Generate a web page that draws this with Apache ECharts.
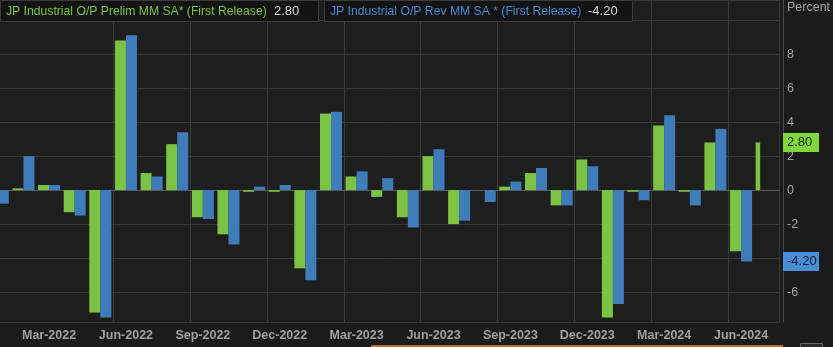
<!DOCTYPE html>
<html><head><meta charset="utf-8">
<script src="https://cdn.jsdelivr.net/npm/echarts@6/dist/echarts.min.js"></script>
<style>html,body{margin:0;padding:0;background:#1b1b1b;}#c{width:833px;height:347px;}</style>
</head><body><div id="c"></div>
<script>
const months = ['Jan-2022','Feb-2022','Mar-2022','Apr-2022','May-2022','Jun-2022','Jul-2022','Aug-2022','Sep-2022','Oct-2022','Nov-2022','Dec-2022',
  'Jan-2023','Feb-2023','Mar-2023','Apr-2023','May-2023','Jun-2023','Jul-2023','Aug-2023','Sep-2023','Oct-2023','Nov-2023','Dec-2023',
  'Jan-2024','Feb-2024','Mar-2024','Apr-2024','May-2024','Jun-2024','Jul-2024'];
const prelimName = 'JP Industrial O/P Prelim MM SA* (First Release)';
const revName = 'JP Industrial O/P Rev MM SA * (First Release)';
const prelim = [-1.3, 0.1, 0.3, -1.3, -7.2, 8.8, 1.0, 2.7, -1.6, -2.6, -0.1, -0.1,
  -4.6, 4.5, 0.8, -0.4, -1.6, 2.0, -2.0, 0.0, 0.2, 1.0, -0.9, 1.8,
  -7.5, -0.1, 3.8, -0.1, 2.8, -3.6, 2.8];
const revised = [-0.8, 2.0, 0.3, -1.5, -7.5, 9.1, 0.8, 3.4, -1.7, -3.2, 0.2, 0.3,
  -5.3, 4.6, 1.1, 0.7, -2.2, 2.4, -1.8, -0.7, 0.5, 1.3, -0.9, 1.4,
  -6.7, -0.6, 4.4, -0.9, 3.6, -4.2, null];
const axisUnit = 'Percent';

const lastOf = a => { for (let i = a.length - 1; i >= 0; i--) if (a[i] != null) return [i, a[i]]; return [0, 0]; };
const [lpIdx, lpVal] = lastOf(prelim);
const [lrIdx, lrVal] = lastOf(revised);

const GREEN = '#7bc443', BLUE = '#3f7cba';
const fnLabel = i => i % 3 === 2;
const fnSplit = i => i % 3 === 2 && i > 2;

const chart = echarts.init(document.getElementById('c'), null, {renderer: 'canvas'});
const mainGreen = prelim.map((v, i) => i === lpIdx ? null : v);
const latestGreen = prelim.map((v, i) => i === lpIdx ? v : null);

function tag(val, bg, fg) {
  return {
    silent: true, symbol: 'none', animation: false,
    lineStyle: {color: 'rgba(0,0,0,0)', width: 0, type: 'solid'},
    label: {show: true, position: 'end', distance: 3.5, formatter: val.toFixed(2),
      backgroundColor: bg, color: fg, fontSize: 13, fontFamily: 'Liberation Sans',
      width: 28, lineHeight: 14, padding: [3, 4, 2, 4], opacity: 1},
    emphasis: {disabled: true},
    data: [{yAxis: val}]
  };
}

chart.setOption({
  backgroundColor: '#1b1b1b',
  animation: false,
  grid: {left: -15, right: 53.5, top: 0, bottom: 25, outerBoundsMode: 'none', containLabel: false,
    show: true, backgroundColor: '#1e1e1f', borderWidth: 0},
  xAxis: [{
    type: 'category', data: months, boundaryGap: true,
    axisLine: {lineStyle: {color: '#5a5a5a'}},
    axisTick: {alignWithLabel: true, interval: fnLabel, length: 4, lineStyle: {color: '#707070'}},
    axisLabel: {interval: fnLabel, color: '#a0a0a0', fontSize: 12.5, fontWeight: 'bold', fontFamily: 'Liberation Sans', margin: 7},
    splitLine: {show: true, interval: fnSplit, lineStyle: {color: '#3a3a3a'}}
  }, {
    type: 'category', data: months, show: false, boundaryGap: true
  }],
  yAxis: {
    type: 'value', position: 'right', offset: 3.5,
    min: -7.76, max: 11.18, minInterval: 2, maxInterval: 2, splitNumber: 9,
    axisLine: {show: true, lineStyle: {color: '#4a4a4a'}},
    axisTick: {show: false},
    axisLabel: {color: '#a2a2a2', fontSize: 12.5, fontFamily: 'Liberation Sans', margin: 4, padding: [4, 0, 0, 0],
      showMinLabel: false, showMaxLabel: false, formatter: v => v === 10 ? '' : String(v)},
    splitLine: {lineStyle: {color: '#383838'}}
  },
  series: [
    {name: prelimName, type: 'bar', xAxisIndex: 0, data: mainGreen, barWidth: 11, barGap: '0%', clip: false,
      itemStyle: {color: GREEN}, markLine: tag(lpVal, '#80d63c', '#16260a')},
    {name: revName, type: 'bar', xAxisIndex: 0, data: revised, barWidth: 11, barGap: '0%', clip: false,
      itemStyle: {color: BLUE}, markLine: tag(lrVal, '#4a8dd4', '#0b1c3d')},
    {name: prelimName + ' latest', type: 'bar', xAxisIndex: 1, data: latestGreen, barWidth: 4.5, barGap: '0%',
      itemStyle: {color: GREEN}},
    {name: 'spacer', type: 'bar', xAxisIndex: 1, data: months.map(() => null), barWidth: 17.5, barGap: '0%',
      itemStyle: {color: 'rgba(0,0,0,0)'}}
  ],
  graphic: [
    {type: 'rect', shape: {x: 0.5, y: 0.5, width: 318, height: 21}, style: {fill: '#131313', stroke: '#3a3a3a', lineWidth: 1}, z: 10},
    {type: 'text', x: 6, y: 11.5, z: 11, style: {text: prelimName, fill: GREEN, fontSize: 12.2, fontFamily: 'Liberation Sans', verticalAlign: 'middle'}},
    {type: 'text', x: 274, y: 11.5, z: 11, style: {text: lpVal.toFixed(2), fill: '#d6d6d6', fontSize: 13, fontFamily: 'Liberation Sans', verticalAlign: 'middle'}},
    {type: 'rect', shape: {x: 324.5, y: 0.5, width: 308, height: 21}, style: {fill: '#131313', stroke: '#3a3a3a', lineWidth: 1}, z: 10},
    {type: 'text', x: 330, y: 11.5, z: 11, style: {text: revName, fill: '#4a88cc', fontSize: 12.2, fontFamily: 'Liberation Sans', verticalAlign: 'middle'}},
    {type: 'text', x: 588, y: 11.5, z: 11, style: {text: lrVal.toFixed(2), fill: '#d6d6d6', fontSize: 13, fontFamily: 'Liberation Sans', verticalAlign: 'middle'}},
    {type: 'text', x: 787, y: 8, z: 11, style: {text: axisUnit, fill: '#a2a2a2', fontSize: 12.5, fontFamily: 'Liberation Sans', verticalAlign: 'middle'}},
    {type: 'line', shape: {x1: 371, y1: 346, x2: 783, y2: 346}, style: {stroke: '#b8702a', lineWidth: 2}, z: 5},
    {type: 'rect', shape: {x: 800.5, y: 343.5, width: 22, height: 6}, style: {fill: '#2a2a2a', stroke: '#666', lineWidth: 1}, z: 5}
  ]
});
</script></body></html>
